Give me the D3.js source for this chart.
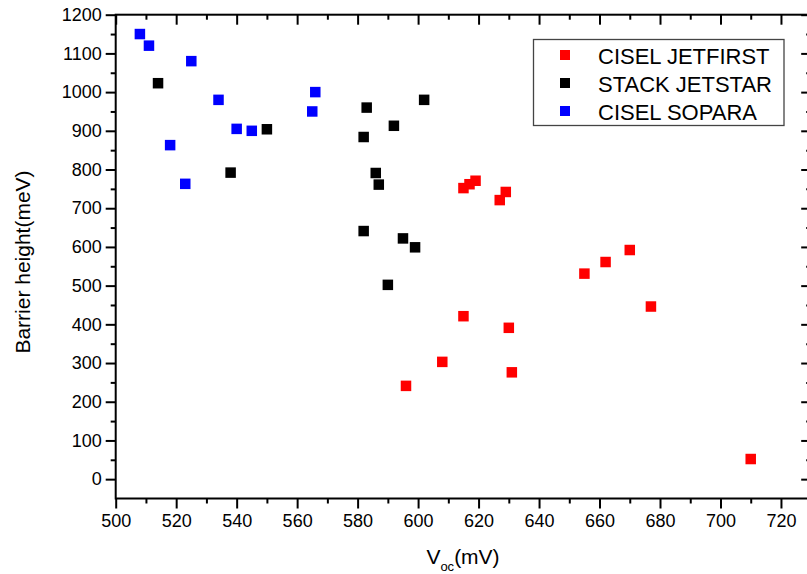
<!DOCTYPE html>
<html lang="en">
<head>
  <meta charset="UTF-8">
  <title>Barrier height vs Voc</title>
  <script src="https://d3js.org/d3.v7.min.js"></script>
  <style>
    body { margin: 0; background: #fff; }
    svg { display: block; }
    text { font-family: "Liberation Sans", Arial, sans-serif; fill: #000; }
    .axis path { display: none; }
    .axis line { stroke: #000; stroke-width: 2px; }
    .axis text { font-size: 18px; }
  </style>
</head>
<body>
  <script>
    // data
    const jetfirstVoc = [596, 608, 615, 615, 617, 619, 627, 629, 630, 631, 655, 662, 670, 677, 710];
    const jetfirstBarrier = [241, 303, 421, 752, 762, 771, 721, 742, 391, 276, 531, 561, 592, 446, 52];

    const jetstarVoc = [514, 538, 550, 582, 582, 583, 586, 587, 590, 592, 595, 599, 602];
    const jetstarBarrier = [1023, 792, 904, 884, 641, 960, 791, 761, 502, 913, 622, 599, 980];

    const soparaVoc = [508, 511, 518, 523, 525, 534, 540, 545, 565, 566];
    const soparaBarrier = [1150, 1120, 863, 763, 1080, 980, 905, 900, 950, 1000];

    const seriesNames = ['CISEL JETFIRST', 'STACK JETSTAR', 'CISEL SOPARA'];
    const seriesColors = ['#ff0000', '#000000', '#0000ff'];

    const xTicks = d3.range(500, 721, 20);
    const xMinor = d3.range(510, 731, 20);
    const yTicks = d3.range(0, 1201, 100);
    const yMinor = d3.range(50, 1151, 100);

    const width = 807, height = 574;
    const mLeft = 115.7, mRight = 811.2, mTop = 14.7, mBottom = 498.5;

    const svg = d3.select('body').append('svg')
      .attr('width', width)
      .attr('height', height);

    const x = d3.scaleLinear().domain([500, 730]).range([mLeft, mRight]);
    const y = d3.scaleLinear().domain([-50, 1200]).range([mBottom, mTop]);

    // bottom axis (ticks out, labelled)
    svg.append('g').attr('class', 'axis')
      .attr('transform', `translate(0,${mBottom})`)
      .call(d3.axisBottom(x).tickValues(xTicks).tickSize(10).tickSizeOuter(0).tickPadding(6).tickFormat(d3.format('d')));
    svg.append('g').attr('class', 'axis')
      .attr('transform', `translate(0,${mBottom})`)
      .call(d3.axisBottom(x).tickValues(xMinor).tickSize(5).tickFormat(''));

    // top axis (ticks in)
    svg.append('g').attr('class', 'axis')
      .attr('transform', `translate(0,${mTop})`)
      .call(d3.axisBottom(x).tickValues(xTicks).tickSize(10).tickFormat(''));
    svg.append('g').attr('class', 'axis')
      .attr('transform', `translate(0,${mTop})`)
      .call(d3.axisBottom(x).tickValues(xMinor).tickSize(5).tickFormat(''));

    // left axis (ticks out, labelled)
    svg.append('g').attr('class', 'axis')
      .attr('transform', `translate(${mLeft},0)`)
      .call(d3.axisLeft(y).tickValues(yTicks).tickSize(10).tickPadding(4).tickFormat(d3.format('d')));
    svg.append('g').attr('class', 'axis')
      .attr('transform', `translate(${mLeft},0)`)
      .call(d3.axisLeft(y).tickValues(yMinor).tickSize(5).tickFormat(''));

    // right axis (ticks in)
    svg.append('g').attr('class', 'axis')
      .attr('transform', `translate(${mRight},0)`)
      .call(d3.axisLeft(y).tickValues(yTicks).tickSize(10).tickFormat(''));
    svg.append('g').attr('class', 'axis')
      .attr('transform', `translate(${mRight},0)`)
      .call(d3.axisLeft(y).tickValues(yMinor).tickSize(5).tickFormat(''));

    // frame
    svg.append('rect')
      .attr('x', mLeft).attr('y', mTop)
      .attr('width', mRight - mLeft).attr('height', mBottom - mTop)
      .attr('fill', 'none').attr('stroke', '#000').attr('stroke-width', 2);

    // points
    const series = [
      { voc: jetfirstVoc, barrier: jetfirstBarrier },
      { voc: jetstarVoc, barrier: jetstarBarrier },
      { voc: soparaVoc, barrier: soparaBarrier }
    ];
    const size = 10.5;
    series.forEach((s, i) => {
      svg.append('g').selectAll('rect')
        .data(s.voc.map((v, j) => [v, s.barrier[j]]))
        .enter().append('rect')
        .attr('x', d => x(d[0]) - size / 2)
        .attr('y', d => y(d[1]) - size / 2)
        .attr('width', size).attr('height', size)
        .attr('fill', seriesColors[i]);
    });

    // axis titles
    const xt = svg.append('text')
      .attr('x', 463).attr('y', 564)
      .attr('text-anchor', 'middle')
      .style('font-size', '21px');
    xt.append('tspan').text('V');
    xt.append('tspan').text('oc').style('font-size', '13px').attr('dy', 7);
    xt.append('tspan').text('(mV)').attr('dy', -7);

    svg.append('text')
      .attr('transform', 'translate(30,262) rotate(-90)')
      .attr('text-anchor', 'middle')
      .style('font-size', '21px')
      .text('Barrier height(meV)');

    // legend
    const lg = svg.append('g');
    lg.append('rect')
      .attr('x', 533.5).attr('y', 39.5)
      .attr('width', 250.5).attr('height', 86)
      .attr('fill', '#fff').attr('stroke', '#444').attr('stroke-width', 1.3);
    seriesNames.forEach((name, i) => {
      const cy = 55 + i * 28;
      lg.append('rect')
        .attr('x', 565 - 5).attr('y', cy - 5)
        .attr('width', 10).attr('height', 10)
        .attr('fill', seriesColors[i]);
      lg.append('text')
        .attr('x', 598).attr('y', cy + 9)
        .style('font-size', '22px')
        .text(name);
    });
  </script>
</body>
</html>
